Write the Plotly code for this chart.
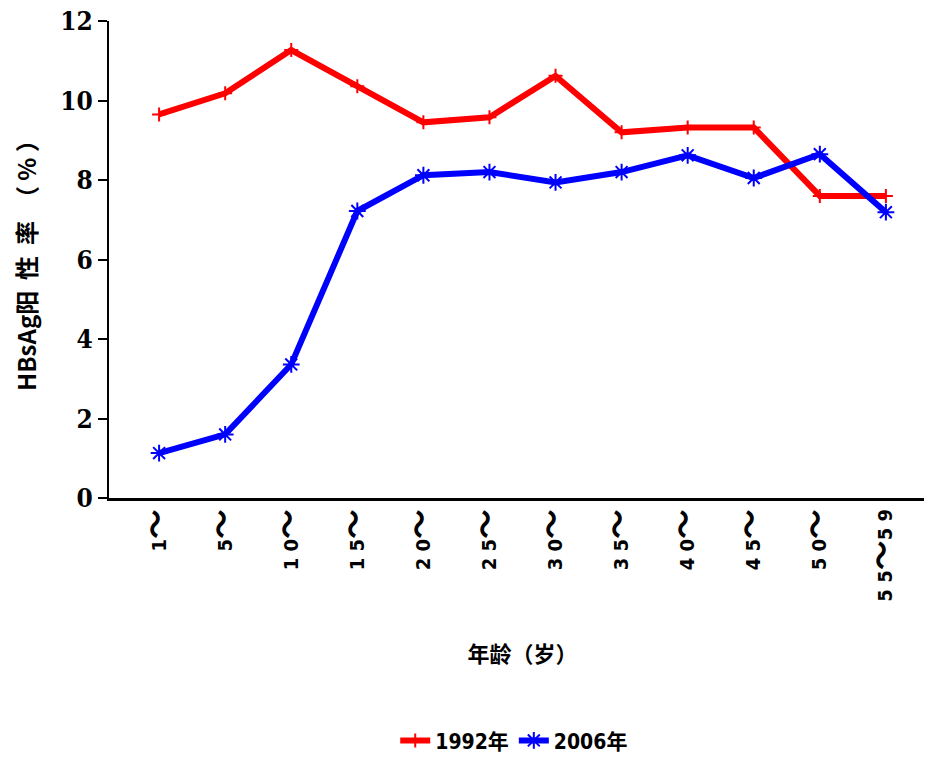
import plotly.graph_objects as go

categories = ["1〜", "5〜", "10〜", "15〜", "20〜", "25〜", "30〜", "35〜", "40〜", "45〜", "50〜", "55〜59"]
y1992 = [9.65, 10.18, 11.27, 10.36, 9.45, 9.58, 10.62, 9.2, 9.32, 9.32, 7.6, 7.6]
y2006 = [1.13, 1.6, 3.36, 7.22, 8.12, 8.2, 7.94, 8.2, 8.62, 8.05, 8.65, 7.19]
yticks = [0, 2, 4, 6, 8, 10, 12]

font_main = "Noto Sans CJK SC"
font_tick = "DejaVu Sans Condensed, Noto Sans CJK SC"

def fmt_tick(label):
    left, right = label.split("〜")
    left = " ".join(left)
    right = " ".join(right)
    return left + "<span style='font-size:30px'>〜</span>" + right

ticktext = [fmt_tick(c) for c in categories]

fig = go.Figure()
fig.add_trace(go.Scatter(
    x=categories, y=y1992, name="1992年", mode="lines+markers",
    line=dict(color="#ff0000", width=6),
    marker=dict(symbol="cross-thin", size=10, line=dict(color="#ff0000", width=2), color="#ff0000"),
))
fig.add_trace(go.Scatter(
    x=categories, y=y2006, name="2006年", mode="lines+markers",
    line=dict(color="#0000ff", width=6),
    marker=dict(symbol="asterisk-open", size=14, line=dict(color="#0000ff", width=2), color="#0000ff"),
))

fig.update_layout(
    width=932, height=757,
    margin=dict(l=101, r=4, t=13, b=259),
    paper_bgcolor="white", plot_bgcolor="white",
    showlegend=True,
    legend=dict(orientation="h", x=0.49, xanchor="center", y=-0.509, yanchor="middle",
                font=dict(family=font_tick, size=21, color="black", weight="bold"),
                tracegroupgap=0),
    font=dict(family=font_main, color="black"),
)
fig.update_xaxes(
    type="category", showline=True, linecolor="black", linewidth=3,
    tickmode="array", tickvals=categories, ticktext=ticktext,
    tickangle=-90, ticks="", showgrid=False, zeroline=False, automargin=False,
    ticklabeloverflow="allow",
    tickfont=dict(family=font_tick, size=20, color="black", weight="bold"),
    title=dict(text="年龄（岁）", font=dict(family=font_main, size=22, color="black", weight="bold"), standoff=46),
)
fig.update_yaxes(
    range=[0, 12], tickvals=yticks, showline=True, linecolor="black", linewidth=2,
    ticks="outside", ticklen=9, tickcolor="black", tickwidth=2, showgrid=False, zeroline=False,
    automargin=False, ticklabeloverflow="allow",
    tickfont=dict(family="DejaVu Serif Condensed", size=26, color="black", weight="bold"),
    title=dict(text="HBsAg阳  性  率  （ % ）", font=dict(family=font_main, size=24, color="black", weight="bold"), standoff=20),
)

fig.write_html("out.html")
